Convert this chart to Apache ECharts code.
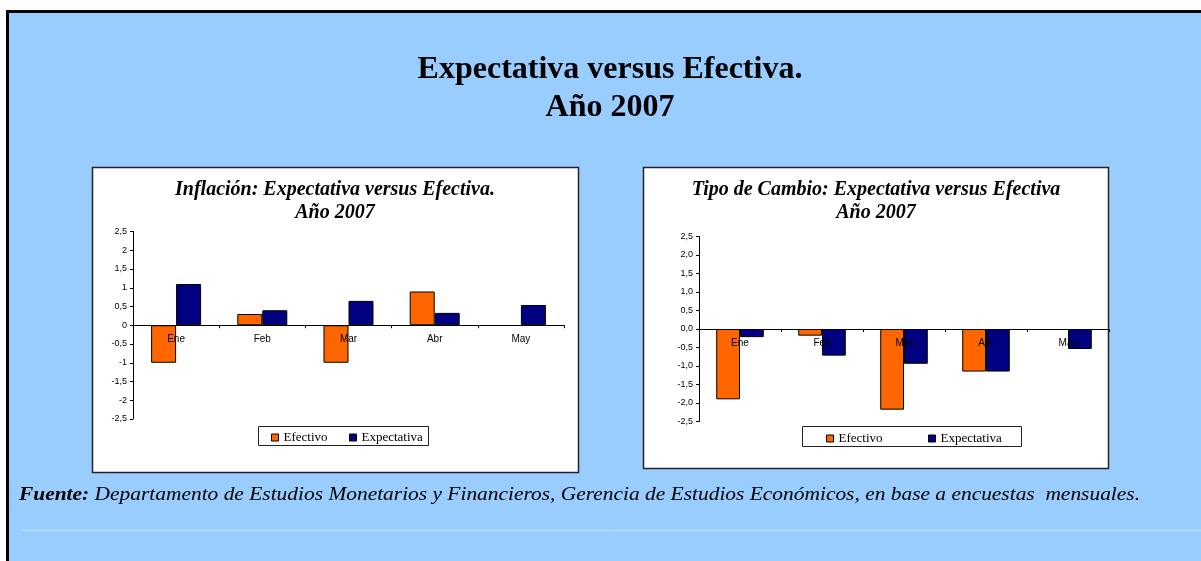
<!DOCTYPE html>
<html>
<head>
<meta charset="utf-8">
<script src="https://cdn.jsdelivr.net/npm/echarts@6/dist/echarts.min.js"></script>
<style>
html,body{margin:0;padding:0;background:#fff;}
#c{width:1201px;height:561px;}
</style>
</head>
<body>
<div id="c"></div>
<script>
// ---- data ----
var categories = ['Ene', 'Feb', 'Mar', 'Abr', 'May'];
var inflEfectivo = [-1.0, 0.3, -1.0, 0.9, null];
var inflExpectativa = [1.1, 0.4, 0.65, 0.33, 0.54];
var tcEfectivo = [-1.9, -0.18, -2.18, -1.15, null];
var tcExpectativa = [-0.22, -0.72, -0.94, -1.15, -0.54];
var seriesNames = ['Efectivo', 'Expectativa'];
var mainTitle = ['Expectativa versus Efectiva.', 'Año 2007'];
var inflTitle = ['Inflación: Expectativa versus Efectiva.', 'Año 2007'];
var tcTitle = ['Tipo de Cambio: Expectativa versus Efectiva', 'Año 2007'];
var fuenteLabel = 'Fuente:';
var fuenteText = ' Departamento de Estudios Monetarios y Financieros, Gerencia de Estudios Económicos, en base a encuestas  mensuales.';

var ORANGE = '#FF6600', NAVY = '#000080', BLUE = '#99CCFF';
var SERIF = '"Liberation Serif","Times New Roman",serif';
var SANS = '"Liberation Sans",Arial,sans-serif';

var chart = echarts.init(document.getElementById('c'));

// grid geometry (pixels)
var G = [
  {left: 133, right: 564, top: 231.5, bottom: 419},
  {left: 699, right: 1109, top: 236.5, bottom: 421.5}
];
var YMIN = -2.5, YMAX = 2.5;

function yAxis(idx, fmt) {
  return {
    type: 'value', gridIndex: idx, min: YMIN, max: YMAX, interval: 0.5, z: 10,
    splitLine: {show: false},
    axisLine: {show: true, lineStyle: {color: '#000', width: 1}},
    axisTick: {show: true, length: 3, lineStyle: {color: '#000'}},
    axisLabel: {fontSize: 9, color: '#000', fontFamily: SANS, margin: 6, formatter: fmt}
  };
}
function xAxis(idx) {
  return {
    type: 'category', gridIndex: idx, data: categories, z: 10,
    axisLine: {onZero: true, lineStyle: {color: '#000', width: 1}},
    axisTick: {show: true, alignWithLabel: false, length: 3, lineStyle: {color: '#000'}},
    axisLabel: {show: false}
  };
}
// label-only axis placed at the zero line
function xLabelAxis(idx) {
  var g = G[idx];
  var zeroY = g.top + (g.bottom - g.top) * (YMAX - 0) / (YMAX - YMIN);
  return {
    type: 'category', gridIndex: idx, data: categories, z: 11, position: 'bottom',
    offset: -(g.bottom - zeroY),
    axisLine: {show: false, onZero: false}, axisTick: {show: false},
    axisLabel: {fontSize: 10, color: '#000', fontFamily: SANS, margin: 9}
  };
}
function bar(name, data, color, idx) {
  return {
    name: name, type: 'bar', xAxisIndex: idx, yAxisIndex: idx, data: data,
    barWidth: '29%', barGap: '0%',
    itemStyle: {color: color, borderColor: '#000', borderWidth: 1}
  };
}
function legendItem(name, left, top) {
  return {
    data: [name], left: left, top: top, padding: 0, itemWidth: 7, itemHeight: 7, itemGap: 0,
    icon: 'rect', selectedMode: false,
    textStyle: {fontFamily: SERIF, fontSize: 13, color: '#000'},
    itemStyle: {borderColor: '#000', borderWidth: 1}
  };
}
function txt(x, y, text, font) {
  return {type: 'text', z: 5, style: {text: text, x: x, y: y, font: font, fill: '#000', textAlign: 'center', textVerticalAlign: 'middle'}};
}

var option = {
  animation: false,
  backgroundColor: '#fff',
  graphic: [
    {type: 'rect', z: 0, shape: {x: 6, y: 10, width: 1195, height: 551}, style: {fill: '#000'}},
    {type: 'rect', z: 0, shape: {x: 9, y: 13, width: 1192, height: 548}, style: {fill: BLUE}},
    {type: 'line', z: 0, shape: {x1: 22, y1: 530.5, x2: 1201, y2: 530.5}, style: {stroke: '#C2E0FF', lineWidth: 1}},
    {type: 'rect', z: 1, shape: {x: 92.5, y: 167.5, width: 486, height: 305}, style: {fill: '#fff', stroke: '#222', lineWidth: 1.5}},
    {type: 'rect', z: 1, shape: {x: 643.5, y: 167.5, width: 465, height: 301}, style: {fill: '#fff', stroke: '#222', lineWidth: 1.5}},
    {type: 'rect', z: 1, shape: {x: 258.5, y: 426.5, width: 170, height: 19}, style: {fill: 'none', stroke: '#222', lineWidth: 1}},
    {type: 'rect', z: 1, shape: {x: 802.5, y: 426.5, width: 219, height: 20}, style: {fill: 'none', stroke: '#222', lineWidth: 1}},
    txt(610, 70, mainTitle[0], 'bold 32px ' + SERIF),
    txt(610, 108, mainTitle[1], 'bold 32px ' + SERIF),
    txt(335, 190, inflTitle[0], 'italic bold 20px ' + SERIF),
    txt(335, 213, inflTitle[1], 'italic bold 20px ' + SERIF),
    txt(876, 190, tcTitle[0], 'italic bold 20px ' + SERIF),
    txt(876, 213, tcTitle[1], 'italic bold 20px ' + SERIF),
    {type: 'text', z: 5, x: 19, y: 495, scaleX: 1.19, scaleY: 1, style: {
      x: 0, y: 0, textVerticalAlign: 'middle', textAlign: 'left',
      text: '{b|' + fuenteLabel + '}{i|' + fuenteText + '}',
      rich: {
        b: {fontFamily: SERIF, fontSize: 18, fontStyle: 'italic', fontWeight: 'bold', fill: '#000', lineHeight: 22, verticalAlign: 'middle'},
        i: {fontFamily: SERIF, fontSize: 18, fontStyle: 'italic', fill: '#000', lineHeight: 22, verticalAlign: 'middle'}
      }
    }}
  ],
  grid: G.map(function (g) {
    return {left: g.left, right: 1201 - g.right, top: g.top, bottom: 561 - g.bottom, containLabel: false};
  }),
  xAxis: [xAxis(0), xAxis(1), xLabelAxis(0), xLabelAxis(1)],
  yAxis: [
    yAxis(0, function (v) { return String(v).replace('.', ','); }),
    yAxis(1, function (v) { return v.toFixed(1).replace('.', ','); })
  ],
  legend: [
    legendItem(seriesNames[0], 271, 431),
    legendItem(seriesNames[1], 349, 431),
    legendItem(seriesNames[0], 826, 432),
    legendItem(seriesNames[1], 928, 432)
  ],
  series: [
    bar(seriesNames[0], inflEfectivo, ORANGE, 0),
    bar(seriesNames[1], inflExpectativa, NAVY, 0),
    bar(seriesNames[0], tcEfectivo, ORANGE, 1),
    bar(seriesNames[1], tcExpectativa, NAVY, 1)
  ]
};
chart.setOption(option);
</script>
</body>
</html>
